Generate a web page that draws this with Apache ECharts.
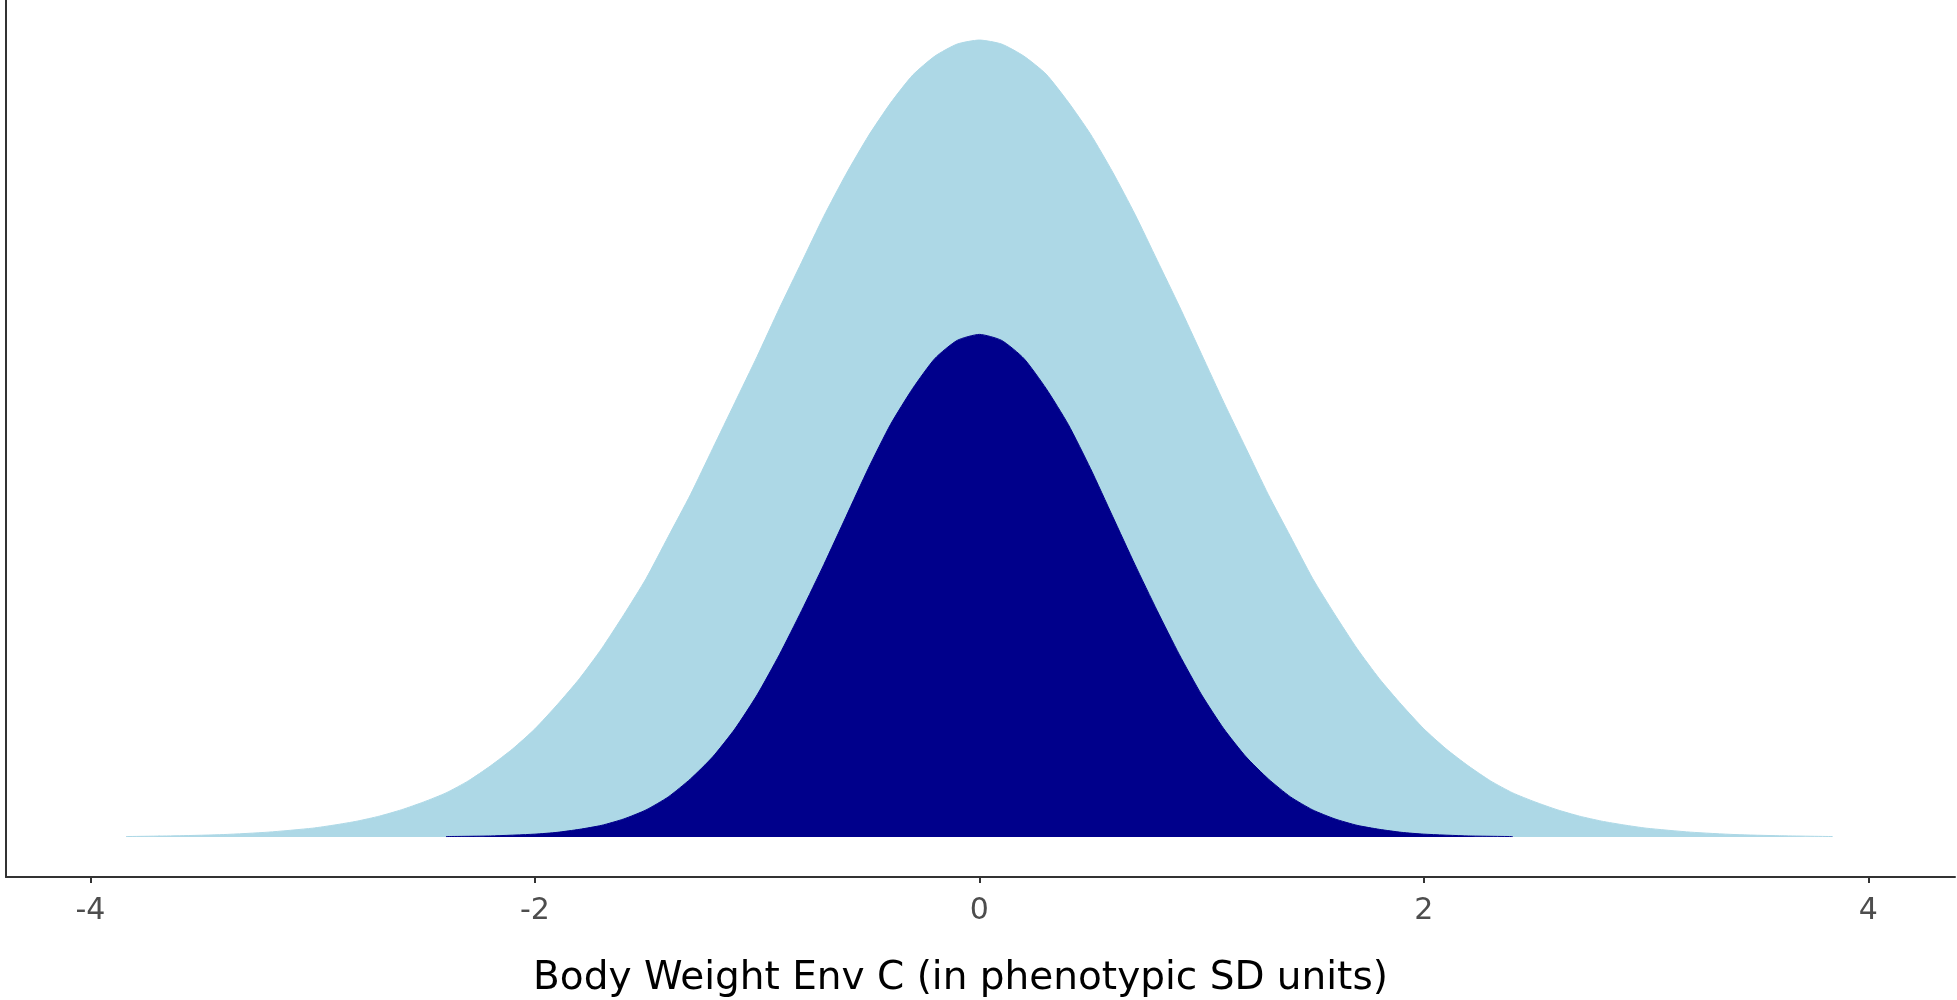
<!DOCTYPE html>
<html>
<head>
<meta charset="utf-8">
<script src="https://cdn.jsdelivr.net/npm/echarts@6/dist/echarts.min.js"></script>
<style>
  html, body { margin: 0; padding: 0; background: #fff; }
  #container { width: 1957px; height: 1000px; }
</style>
</head>
<body>
<div id="container"></div>
<script>
// density of the whole population (light blue)
var outerX = [-3.84, -3.6, -3.4, -3.2, -3.0, -2.9, -2.8, -2.7, -2.6, -2.5, -2.4, -2.3, -2.2, -2.1, -2.0,
              -1.9, -1.8, -1.7, -1.6, -1.5, -1.4, -1.3, -1.2, -1.1, -1.0, -0.9, -0.8, -0.7, -0.6, -0.5,
              -0.4, -0.3, -0.2, -0.1, 0.0, 0.1, 0.2, 0.3, 0.4, 0.5, 0.6, 0.7, 0.8, 0.9, 1.0,
              1.1, 1.2, 1.3, 1.4, 1.5, 1.6, 1.7, 1.8, 1.9, 2.0, 2.1, 2.2, 2.3, 2.4, 2.5,
              2.6, 2.7, 2.8, 2.9, 3.0, 3.2, 3.4, 3.6, 3.84]
var outerY = [0.0002, 0.0006, 0.0012, 0.0024, 0.0044, 0.0060, 0.0079, 0.0104, 0.0136, 0.0175, 0.0220, 0.0280, 0.0355, 0.0440, 0.0540,
              0.0660, 0.0790, 0.0940, 0.1110, 0.1290, 0.1500, 0.1710, 0.1940, 0.2170, 0.2400, 0.2640, 0.2870, 0.3100, 0.3310, 0.3500,
              0.3665, 0.3805, 0.3900, 0.3960, 0.3980, 0.3960, 0.3900, 0.3810, 0.3670, 0.3510, 0.3320, 0.3110, 0.2880, 0.2650, 0.2410,
              0.2170, 0.1940, 0.1710, 0.1500, 0.1290, 0.1110, 0.0940, 0.0790, 0.0660, 0.0540, 0.0440, 0.0355, 0.0280, 0.0220, 0.0175,
              0.0136, 0.0104, 0.0079, 0.0060, 0.0044, 0.0024, 0.0012, 0.0006, 0.0002]

// density of the selected part (dark blue)
var innerX = [-2.4, -2.2, -2.0, -1.9, -1.8, -1.7, -1.6, -1.5, -1.4, -1.3, -1.2, -1.1, -1.0, -0.9, -0.8, -0.7, -0.6, -0.5,
              -0.4, -0.3, -0.2, -0.1, 0.0, 0.1, 0.2, 0.3, 0.4, 0.5, 0.6, 0.7, 0.8, 0.9, 1.0,
              1.1, 1.2, 1.3, 1.4, 1.5, 1.6, 1.7, 1.8, 1.9, 2.0, 2.2, 2.4]
var innerY = [0.0002, 0.0005, 0.0014, 0.0023, 0.0038, 0.0058, 0.0090, 0.0135, 0.0200, 0.0290, 0.0400, 0.0540, 0.0710, 0.0910, 0.1130, 0.1360, 0.1600, 0.1840,
              0.2060, 0.2240, 0.2390, 0.2480, 0.2510, 0.2480, 0.2390, 0.2240, 0.2060, 0.1840, 0.1600, 0.1360, 0.1130, 0.0910, 0.0710,
              0.0540, 0.0400, 0.0290, 0.0200, 0.0135, 0.0090, 0.0058, 0.0038, 0.0023, 0.0014, 0.0005, 0.0002]

var tickValues = [-4, -2, 0, 2, 4]
var axisTitle = 'Body Weight Env C (in phenotypic SD units)'

function pairs(xs, ys) {
    var out = []
    for (var i = 0; i < xs.length; i++) {
        out.push([xs[i], ys[i]])
    }
    return out
}

var myChart = echarts.init(document.getElementById('container'))
myChart.setOption({
    animation: false,
    grid: {
        left: 6,
        right: 2,
        top: 0,
        bottom: 123,
        containLabel: false,
        outerBoundsMode: 'none'
    },
    xAxis: {
        type: 'value',
        min: -4.38,
        max: 4.39,
        name: axisTitle,
        nameLocation: 'middle',
        nameGap: 82,
        nameTextStyle: {
            fontFamily: 'DejaVu Sans',
            fontSize: 39,
            color: '#000',
            padding: [0, 40, 0, 0]
        },
        splitLine: { show: false },
        axisLine: {
            onZero: false,
            lineStyle: { color: '#333', width: 2 }
        },
        axisTick: {
            customValues: tickValues,
            length: 6,
            lineStyle: { color: '#333', width: 2 }
        },
        axisLabel: {
            customValues: tickValues,
            margin: 19,
            fontFamily: 'DejaVu Sans',
            fontSize: 30,
            color: '#4d4d4d'
        }
    },
    yAxis: {
        type: 'value',
        min: -0.02,
        max: 0.418,
        splitLine: { show: false },
        axisLabel: { show: false },
        axisTick: { show: false },
        axisLine: {
            show: true,
            onZero: false,
            lineStyle: { color: '#333', width: 2 }
        }
    },
    series: [
        {
            name: 'all',
            type: 'line',
            smooth: 0.2,
            showSymbol: false,
            data: pairs(outerX, outerY),
            lineStyle: { color: '#ADD8E6', width: 1 },
            areaStyle: { color: '#ADD8E6', opacity: 1, origin: 0 },
            z: 2
        },
        {
            name: 'selected',
            type: 'line',
            smooth: 0.2,
            showSymbol: false,
            data: pairs(innerX, innerY),
            lineStyle: { color: '#00008B', width: 1 },
            areaStyle: { color: '#00008B', opacity: 1, origin: 0 },
            z: 3
        }
    ]
})
</script>
</body>
</html>
